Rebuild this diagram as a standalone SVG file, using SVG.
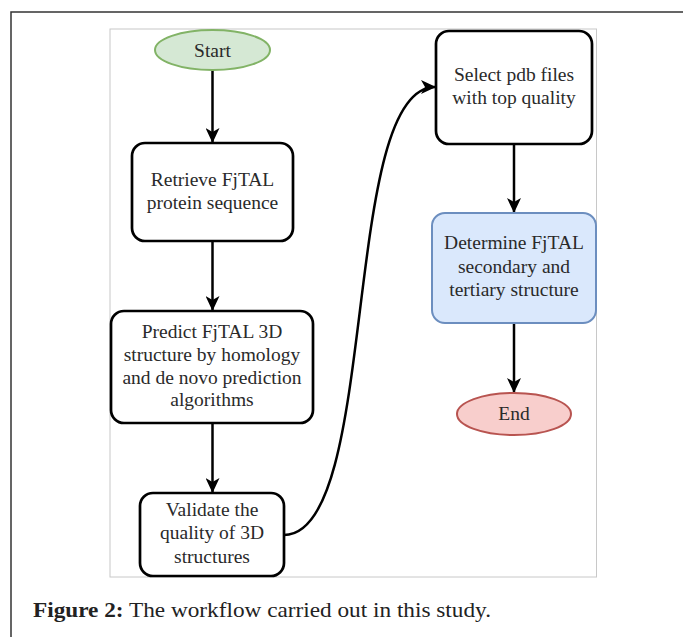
<svg xmlns="http://www.w3.org/2000/svg" width="683" height="637" viewBox="0 0 683 637">
<style>
.box{fill:#ffffff;stroke:#000000;stroke-width:2.7}
.t{font-family:"Liberation Serif","Times New Roman",serif;font-size:19.5px;fill:#2a2a2a;text-anchor:middle}
.edge{fill:none;stroke:#000000;stroke-width:2.5}
.cap{font-family:"Liberation Serif","Times New Roman",serif;font-size:22px;fill:#222222}
</style>
<defs>
<marker id="arr" markerUnits="userSpaceOnUse" markerWidth="15" markerHeight="14" refX="14" refY="7" orient="auto">
<path d="M0,0 L15,7 L0,14 L4,7 Z" fill="#000000"/>
</marker>
</defs>
<rect x="0" y="0" width="683" height="637" fill="#ffffff"/>
<g id="frame">
<path d="M11,637 V12 H683" fill="none" stroke="#333333" stroke-width="1.5"/>
<rect x="110" y="29" width="486.5" height="548" fill="none" stroke="#c8c8c8" stroke-width="1"/>
</g>
<g id="connectors">
<path class="edge" d="M212.5,70 V142" marker-end="url(#arr)"/>
<path class="edge" d="M212.5,241 V310" marker-end="url(#arr)"/>
<path class="edge" d="M212.5,423 V492" marker-end="url(#arr)"/>
<path class="edge" d="M284,535 C380,535 340,87 435,87" marker-end="url(#arr)"/>
<path class="edge" d="M514,144 V212" marker-end="url(#arr)"/>
<path class="edge" d="M514,323 V392" marker-end="url(#arr)"/>
</g>
<g id="start">
<ellipse cx="212.5" cy="50" rx="57.5" ry="20" fill="#d5e8d4" stroke="#82b366" stroke-width="2"/>
<text class="t" x="212.5" y="57">Start</text>
</g>
<g id="retrieve">
<rect class="box" x="132" y="143" width="161" height="98" rx="13"/>
<text class="t" x="212.5" y="186">Retrieve FjTAL</text>
<text class="t" x="212.5" y="209">protein sequence</text>
</g>
<g id="predict">
<rect class="box" x="111" y="311" width="202" height="112" rx="13"/>
<text class="t" x="212" y="338">Predict FjTAL 3D</text>
<text class="t" x="212" y="361">structure by homology</text>
<text class="t" x="212" y="384">and de novo prediction</text>
<text class="t" x="212" y="406">algorithms</text>
</g>
<g id="validate">
<rect class="box" x="140" y="493" width="144" height="83" rx="13"/>
<text class="t" x="212" y="516">Validate the</text>
<text class="t" x="212" y="539">quality of 3D</text>
<text class="t" x="212" y="563">structures</text>
</g>
<g id="select">
<rect class="box" x="436" y="31" width="156" height="113" rx="13"/>
<text class="t" x="514" y="81">Select pdb files</text>
<text class="t" x="514" y="104">with top quality</text>
</g>
<g id="determine">
<rect x="432" y="213" width="164" height="110" rx="13" fill="#dae8fc" stroke="#6c8ebf" stroke-width="2"/>
<text class="t" x="514" y="249">Determine FjTAL</text>
<text class="t" x="514" y="273">secondary and</text>
<text class="t" x="514" y="296">tertiary structure</text>
</g>
<g id="end">
<ellipse cx="514" cy="414" rx="57" ry="21" fill="#f8cecc" stroke="#b85450" stroke-width="2"/>
<text class="t" x="514" y="420">End</text>
</g>
<g id="caption">
<text class="cap" x="33" y="617" textLength="458" lengthAdjust="spacingAndGlyphs"><tspan font-weight="bold">Figure 2:</tspan> The workflow carried out in this study.</text>
</g>
</svg>
